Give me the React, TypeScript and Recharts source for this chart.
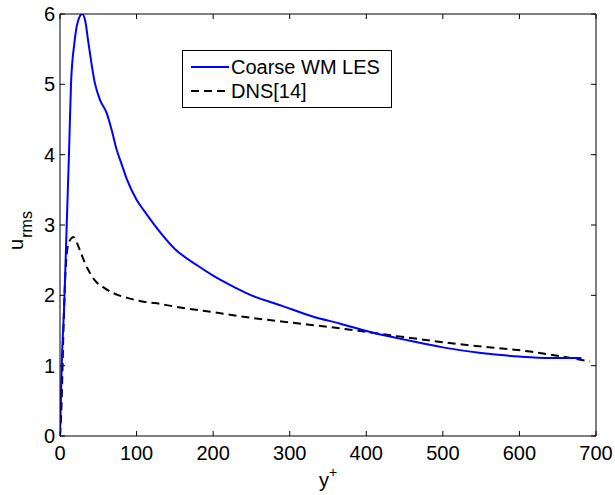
import React from "react";
import { LineChart, Line, XAxis, YAxis, Legend } from "recharts";

// Coarse WM LES
const lesY = [0, 2.2, 5.7, 8.7, 11.7, 14.4, 18.7, 23, 29, 33, 37, 45.7, 52.2, 61, 67.5, 74, 80, 87, 100, 110, 122, 150, 180, 200, 220, 250, 290, 330, 365, 405, 450, 500, 550, 600, 640, 681];
const lesU = [0, 0.99, 1.93, 2.98, 4.0, 5.01, 5.58, 5.88, 6.0, 5.9, 5.6, 5.01, 4.78, 4.59, 4.35, 4.07, 3.88, 3.66, 3.36, 3.2, 3.02, 2.66, 2.42, 2.28, 2.16, 2.0, 1.85, 1.7, 1.6, 1.48, 1.37, 1.26, 1.18, 1.13, 1.11, 1.11];

// DNS[14]
const dnsY = [0, 2.2, 4.4, 6.5, 10, 14, 17.4, 22, 26, 31, 37, 45, 58.7, 70, 89, 109, 124, 150, 200, 250, 304, 352, 400, 440, 526, 614, 692];
const dnsU = [0, 0.51, 1.46, 2.17, 2.69, 2.8, 2.83, 2.75, 2.64, 2.5, 2.36, 2.22, 2.1, 2.03, 1.96, 1.91, 1.89, 1.84, 1.76, 1.68, 1.61, 1.55, 1.48, 1.42, 1.3, 1.2, 1.06];

const xTicks = [0, 100, 200, 300, 400, 500, 600, 700];
const yTicks = [0, 1, 2, 3, 4, 5, 6];
const xMax = 700;
const yMax = 6;

const seriesNames = ["Coarse WM LES", "DNS[14]"];

const lesData = lesY.map((y, i) => ({ y, u: lesU[i] }));
const dnsData = dnsY.map((y, i) => ({ y, u: dnsU[i] }));

const FONT = "'Liberation Sans', Arial, sans-serif";

// layout
const W = 615;
const H = 495;
const MARGIN = { top: 14, right: 19, bottom: 19, left: 0 };
const X_AXIS_H = 40;
const Y_AXIS_W = 60;
const PLOT_TOP = MARGIN.top;
const PLOT_LEFT = MARGIN.left + Y_AXIS_W;
const PLOT_RIGHT = W - MARGIN.right;
const PLOT_BOTTOM = H - MARGIN.bottom - X_AXIS_H;
const TICK_LEN = 5;

const XTick = (props: any) => {
  const { x, y, payload } = props;
  const v = payload?.value;
  const cx = payload?.coordinate ?? x;
  return (
    <g>
      {/* inward tick on the top edge of the box */}
      <line x1={cx} x2={cx} y1={PLOT_TOP} y2={PLOT_TOP + TICK_LEN} stroke="#000" strokeWidth={1} />
      {/* right edge of the box */}
      {v === xMax && (
        <line x1={cx} x2={cx} y1={PLOT_TOP} y2={PLOT_BOTTOM} stroke="#000" strokeWidth={1} />
      )}
      <text x={x} y={y} dy="0.71em" textAnchor="middle" fill="#000" fontSize={20} fontFamily={FONT}>
        {v}
      </text>
    </g>
  );
};

const YTick = (props: any) => {
  const { x, y, payload } = props;
  const v = payload?.value;
  const cy = payload?.coordinate ?? y;
  return (
    <g>
      {/* inward tick on the right edge of the box */}
      <line x1={PLOT_RIGHT - TICK_LEN} x2={PLOT_RIGHT} y1={cy} y2={cy} stroke="#000" strokeWidth={1} />
      {/* top edge of the box */}
      {v === yMax && (
        <line x1={PLOT_LEFT} x2={PLOT_RIGHT} y1={cy} y2={cy} stroke="#000" strokeWidth={1} />
      )}
      <text x={x} y={y} dy="0.355em" textAnchor="end" fill="#000" fontSize={20} fontFamily={FONT}>
        {v}
      </text>
    </g>
  );
};

const LegendBox = () => (
  <div
    style={{
      boxSizing: "border-box",
      width: 210,
      height: 58,
      border: "1px solid #000",
      background: "#fff",
      fontFamily: FONT,
      fontSize: 20,
      color: "#000",
      position: "relative",
    }}
  >
    {seriesNames.map((name, i) => (
      <div
        key={name}
        style={{
          position: "absolute",
          left: 7,
          top: i === 0 ? 4 : 28,
          height: 24,
          display: "flex",
          alignItems: "center",
          whiteSpace: "nowrap",
        }}
      >
        <svg width={40} height={24} style={{ display: "block" }}>
          <line
            x1={1}
            x2={39}
            y1={12}
            y2={12}
            stroke={i === 0 ? "#0000ff" : "#000"}
            strokeWidth={2}
            strokeDasharray={i === 0 ? undefined : "8 5"}
          />
        </svg>
        <span style={{ marginLeft: 1, lineHeight: "24px" }}>{name}</span>
      </div>
    ))}
  </div>
);

const XLabel = (props: any) => {
  const vb = props.viewBox || { x: 60, y: 436, width: 536, height: 40 };
  const cx = vb.x + vb.width / 2;
  return (
    <text x={cx} y={vb.y + 51} textAnchor="middle" fontFamily={FONT} fontSize={20} fill="#000">
      <tspan>y</tspan>
      <tspan dy={-10} fontSize={14}>+</tspan>
    </text>
  );
};

const YLabel = (props: any) => {
  const vb = props.viewBox || { x: 0, y: 14, width: 60, height: 422 };
  const cy = vb.y + vb.height / 2 + 5.5;
  return (
    <text
      transform={`translate(22.5, ${cy}) rotate(-90)`}
      x={0}
      y={0}
      textAnchor="middle"
      fontFamily={FONT}
      fontSize={20}
      fill="#000"
    >
      <tspan>u</tspan>
      <tspan dy={9} dx={1} fontSize={16}>rms</tspan>
    </text>
  );
};

export default function App() {
  return (
    <div style={{ position: "absolute", left: 0, top: 0, width: W, height: H, background: "#fff" }}>
      <LineChart width={W} height={H} margin={MARGIN}>
        <XAxis
          xAxisId="b"
          type="number"
          dataKey="y"
          domain={[0, xMax]}
          ticks={xTicks}
          interval={0}
          allowDataOverflow
          height={X_AXIS_H}
          tickSize={-TICK_LEN}
          tickMargin={15}
          tick={(p: any) => <XTick {...p} />}
          axisLine={{ stroke: "#000" }}
          tickLine={{ stroke: "#000" }}
          label={{ content: XLabel }}
        />
        <YAxis
          yAxisId="l"
          type="number"
          domain={[0, yMax]}
          ticks={yTicks}
          interval={0}
          allowDataOverflow
          width={Y_AXIS_W}
          tickSize={-TICK_LEN}
          tickMargin={10}
          tick={(p: any) => <YTick {...p} />}
          axisLine={{ stroke: "#000" }}
          tickLine={{ stroke: "#000" }}
          label={{ content: YLabel }}
        />
        <Legend
          layout="vertical"
          align="center"
          verticalAlign="middle"
          wrapperStyle={{ left: 182, top: 50, width: "auto", height: "auto" }}
          content={() => <LegendBox />}
        />
        <Line
          xAxisId="b"
          yAxisId="l"
          data={dnsData}
          dataKey="u"
          name={seriesNames[1]}
          type="monotone"
          stroke="#000"
          strokeWidth={2}
          strokeDasharray="8 5"
          dot={false}
          activeDot={false}
          isAnimationActive={false}
        />
        <Line
          xAxisId="b"
          yAxisId="l"
          data={lesData}
          dataKey="u"
          name={seriesNames[0]}
          type="monotone"
          stroke="#0000ff"
          strokeWidth={2}
          dot={false}
          activeDot={false}
          isAnimationActive={false}
        />
      </LineChart>
    </div>
  );
}
